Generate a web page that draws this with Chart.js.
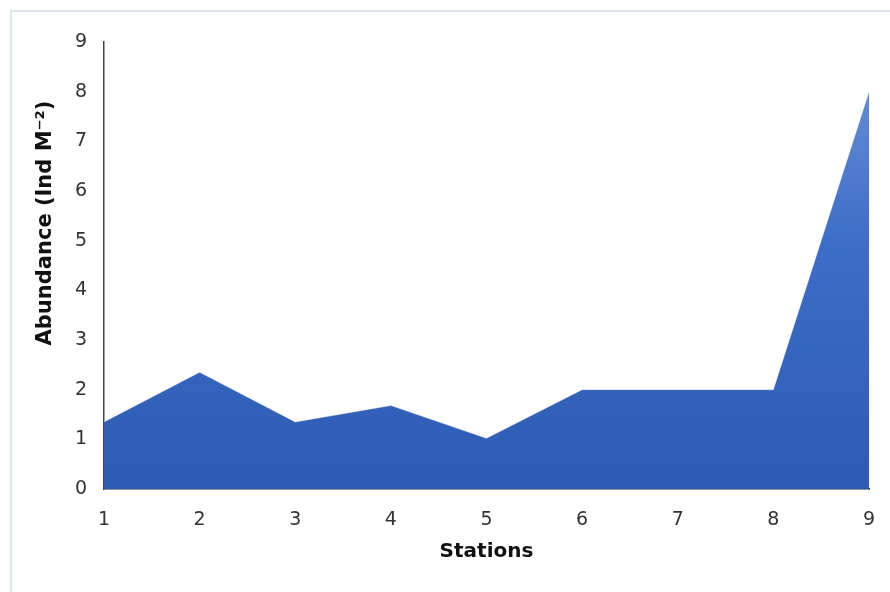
<!DOCTYPE html>
<html>
<head>
<meta charset="utf-8">
<script src="https://cdn.jsdelivr.net/npm/chart.js@4.4.1/dist/chart.umd.min.js"></script>
<style>
  html, body { margin: 0; padding: 0; background: #ffffff; }
  #wrap { position: relative; width: 890px; height: 592px; }
  canvas { display: block; }
</style>
</head>
<body>
<div id="wrap"><canvas id="c" width="890" height="592"></canvas></div>
<script>
const stations = ['1', '2', '3', '4', '5', '6', '7', '8', '9'];
const abundance = [1.35, 2.35, 1.35, 1.68, 1.02, 2.0, 2.0, 2.0, 8.0];
const yTicks = [0, 1, 2, 3, 4, 5, 6, 7, 8, 9];
const xTitle = 'Stations';
const yTitle = 'Abundance (Ind M\u207B\u00B2)';

const FONT = 'Verdana, "DejaVu Sans", sans-serif';

const framePlugin = {
  id: 'frame',
  beforeDraw(chart) {
    const ctx = chart.ctx;
    ctx.save();
    ctx.strokeStyle = '#dde5ef';
    ctx.lineWidth = 2;
    ctx.beginPath();
    ctx.moveTo(11, 592);
    ctx.lineTo(11, 11);
    ctx.lineTo(890, 11);
    ctx.stroke();
    ctx.restore();
  }
};

const yTitlePlugin = {
  id: 'yTitle',
  afterDraw(chart) {
    const ctx = chart.ctx;
    ctx.save();
    ctx.translate(46, 223);
    ctx.rotate(-Math.PI / 2);
    ctx.font = 'bold 21px ' + FONT;
    ctx.fillStyle = '#111111';
    ctx.textAlign = 'center';
    ctx.textBaseline = 'middle';
    ctx.fillText(yTitle, 0, 0);
    ctx.restore();
  }
};

const ctx = document.getElementById('c').getContext('2d');
new Chart(ctx, {
  type: 'line',
  data: {
    labels: stations,
    datasets: [{
      data: abundance,
      fill: 'origin',
      borderWidth: 1,
      borderColor: 'rgba(255,255,255,0.35)',
      pointRadius: 0,
      tension: 0,
      backgroundColor(context) {
        const area = context.chart.chartArea;
        if (!area) return '#3266c0';
        const g = context.chart.ctx.createLinearGradient(0, area.top, 0, area.bottom);
        g.addColorStop(0, '#6f94da');
        g.addColorStop(0.45, '#3d6dc6');
        g.addColorStop(1, '#2d5bb3');
        return g;
      }
    }]
  },
  options: {
    responsive: false,
    animation: false,
    events: [],
    layout: { padding: { top: 42, right: 21, bottom: 0, left: 0 } },
    plugins: { legend: { display: false }, tooltip: { enabled: false } },
    scales: {
      x: {
        offset: false,
        grid: { display: false, drawOnChartArea: false, drawTicks: true, tickLength: 7, tickColor: '#555555' },
        border: { display: true, color: '#222222', width: 1.5 },
        ticks: { color: '#333333', font: { family: FONT, size: 19 }, padding: 13, maxRotation: 0 },
        title: { display: true, text: xTitle, color: '#111111', font: { family: FONT, size: 20, weight: 'bold' }, padding: { top: 4, bottom: 28 } },
        afterFit(scale) { scale.height = 103; }
      },
      y: {
        min: 0,
        max: 9,
        afterBuildTicks(scale) { scale.ticks = yTicks.map(v => ({ value: v })); },
        grid: { display: false, drawTicks: false },
        border: { display: true, color: '#444444', width: 1.5 },
        ticks: { color: '#333333', font: { family: FONT, size: 19 }, padding: 17 },
        title: { display: false },
        afterFit(scale) { scale.width = 104; }
      }
    }
  },
  plugins: [framePlugin, yTitlePlugin]
});
</script>
</body>
</html>
